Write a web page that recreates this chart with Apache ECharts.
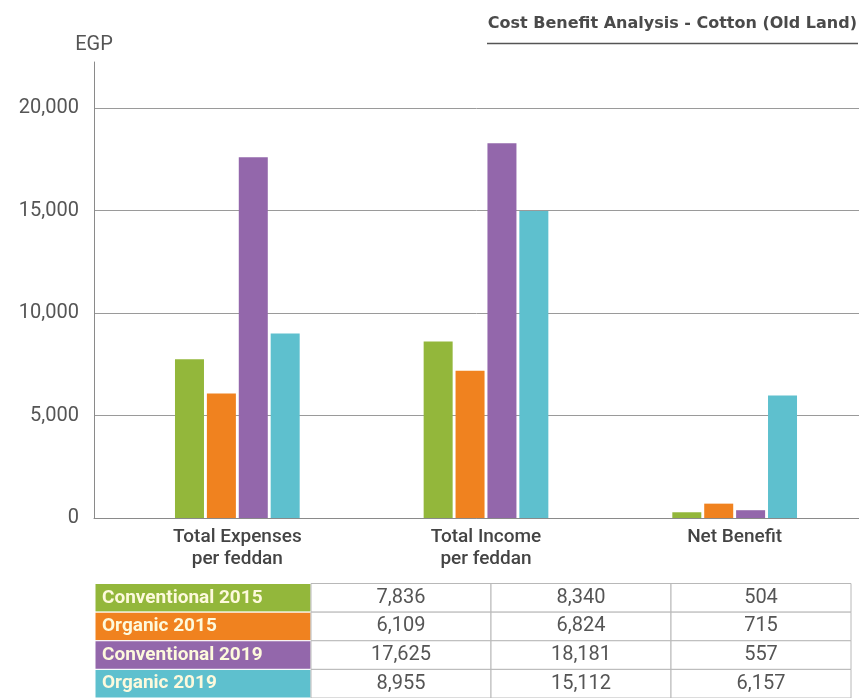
<!DOCTYPE html>
<html>
<head>
<meta charset="utf-8">
<script src="https://cdn.jsdelivr.net/npm/echarts@6/dist/echarts.min.js"></script>
<style>
html,body{margin:0;padding:0;background:#fff;}
#chart{width:859px;height:698px;}
</style>
</head>
<body>
<div id="chart"></div>
<script>
// ---- Data ----
const categories = ['Total Expenses\nper feddan', 'Total Income\nper feddan', 'Net Benefit'];
const seriesNames = ['Conventional 2015', 'Organic 2015', 'Conventional 2019', 'Organic 2019'];
// bar heights as drawn in the picture
const conventional2015 = [7750, 8610, 280];
const organic2015 = [6070, 7180, 700];
const conventional2019 = [17600, 18280, 380];
const organic2019 = [9000, 14980, 5980];
// table text
const tableConventional2015 = ['7,836', '8,340', '504'];
const tableOrganic2015 = ['6,109', '6,824', '715'];
const tableConventional2019 = ['17,625', '18,181', '557'];
const tableOrganic2019 = ['8,955', '15,112', '6,157'];
const yTicks = [0, 5000, 10000, 15000, 20000];

const colors = ['#93b73b', '#f0821f', '#9367ab', '#5ec0ce'];
const FONT = 'Roboto';

const barValues = [conventional2015, organic2015, conventional2019, organic2019];
const tableRows = [tableConventional2015, tableOrganic2015, tableConventional2019, tableOrganic2019];

// table cells: [column, row, text]
const tableData = [];
tableRows.forEach((row, r) => {
  tableData.push([0, r, seriesNames[r]]);
  row.forEach((t, c) => tableData.push([c + 1, r, t]));
});
const colEdges = [0, 1.2, 2.2, 3.2, 4.2];

const chart = echarts.init(document.getElementById('chart'), null, {renderer: 'canvas'});

const option = {
  backgroundColor: '#fff',
  animation: false,
  title: {
    text: 'Cost Benefit Analysis - Cotton (Old Land)',
    right: 2,
    top: 16,
    padding: 0,
    textStyle: {fontFamily: 'DejaVu Sans', fontSize: 16, fontWeight: 'bold', color: '#4a4a4a'}
  },
  graphic: [{
    type: 'line',
    shape: {x1: 487, y1: 43.5, x2: 858, y2: 43.5},
    style: {stroke: '#555', lineWidth: 1.5}
  }],
  grid: [
    {left: 94, right: 0, top: 62, bottom: 180},   // axis line extension + name
    {left: 94, right: 0, top: 108, bottom: 180},  // labels, gridlines, baseline
    {left: 113, right: 0, top: 108, bottom: 180}, // bars
    {left: 95, width: 756, top: 583.5, height: 120} // table
  ],
  xAxis: [
    {gridIndex: 0, type: 'value', show: false},
    {gridIndex: 1, type: 'value', min: 0, max: 1, axisLine: {show: true, lineStyle: {color: '#8a8a8a', width: 1}},
      axisTick: {show: false}, axisLabel: {show: false}, splitLine: {show: false}},
    {gridIndex: 2, type: 'category', data: categories,
      axisLine: {show: false}, axisTick: {show: false},
      axisLabel: {fontFamily: FONT, fontSize: 19, color: '#444', lineHeight: 22, margin: 8, fontWeight: 500}},
    {gridIndex: 3, type: 'value', min: 0, max: 4.2, show: false}
  ],
  yAxis: [
    {gridIndex: 0, type: 'value', min: 0, max: 22250, name: 'EGP', nameLocation: 'end', nameGap: 7,
      nameTextStyle: {fontFamily: FONT, fontSize: 20, color: '#555', align: 'center'},
      axisLine: {show: true, lineStyle: {color: '#8a8a8a', width: 1}},
      axisTick: {show: false}, axisLabel: {show: false}, splitLine: {show: false}},
    {gridIndex: 1, type: 'value', min: yTicks[0], max: yTicks[yTicks.length - 1], interval: 5000,
      axisLine: {show: false}, axisTick: {show: false},
      axisLabel: {fontFamily: FONT, fontSize: 20, color: '#555', margin: 15,
        formatter: v => v.toLocaleString('en-US')},
      splitLine: {show: true, lineStyle: {color: '#9a9a9a', width: 1}}},
    {gridIndex: 2, type: 'value', min: 0, max: 20000, show: false, splitLine: {show: false}},
    {gridIndex: 3, type: 'category', data: seriesNames, inverse: true, show: false}
  ],
  series: [
    ...barValues.map((vals, i) => ({
      type: 'bar',
      name: seriesNames[i],
      xAxisIndex: 2,
      yAxisIndex: 2,
      data: vals,
      barWidth: 29,
      barGap: '10%',
      itemStyle: {color: colors[i]}
    })),
    {
      type: 'custom',
      xAxisIndex: 3,
      yAxisIndex: 3,
      clip: false,
      data: tableData,
      renderItem: function (params, api) {
        const col = api.value(0), row = api.value(1);
        const text = tableData[params.dataIndex][2];
        const p0 = api.coord([colEdges[col], row]);
        const p1 = api.coord([colEdges[col + 1], row]);
        const h = api.size([0, 1])[1];
        const x = p0[0], y = p0[1] - h / 2, w = p1[0] - p0[0];
        const isLabel = col === 0;
        return {
          type: 'group',
          children: [
            {type: 'rect', shape: {x: x, y: y, width: w, height: h},
              style: {fill: isLabel ? colors[row] : '#fff', stroke: isLabel ? '#fff' : '#b8b8b8', lineWidth: 1}},
            {type: 'text',
              style: {text: text, x: isLabel ? x + 7 : x + w / 2, y: y + h / 2,
                align: isLabel ? 'left' : 'center', verticalAlign: 'middle',
                fontFamily: FONT, fontSize: isLabel ? 19 : 20, fontWeight: isLabel ? 'bold' : 'normal',
                fill: isLabel ? '#fdf9dc' : '#555'}}
          ]
        };
      }
    }
  ]
};
chart.setOption(option);
</script>
</body>
</html>
